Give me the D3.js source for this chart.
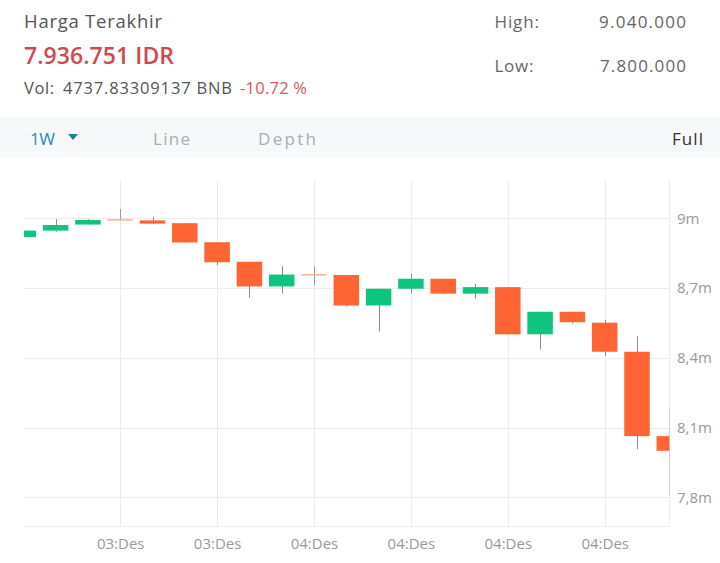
<!DOCTYPE html>
<html>
<head>
<meta charset="utf-8">
<script src="https://cdn.jsdelivr.net/npm/d3@7"></script>
<style>
  html, body { margin: 0; padding: 0; background: #fff; }
  svg { display: block; font-family: "Open Sans", "Noto Sans", sans-serif; }
</style>
</head>
<body>
<svg id="chart" width="720" height="563"></svg>
<script>
// ---- Data (values in millions IDR) ----
const candleIndex = [0,1,2,3,4,5,6,7,8,9,10,11,12,13,14,15,16,17,18,19,20];
const opens  = [8.919, 8.947, 8.973, 8.993, 8.991, 8.979, 8.897, 8.813, 8.707, 8.757, 8.756, 8.625, 8.697, 8.740, 8.676, 8.704, 8.501, 8.598, 8.551, 8.426, 8.063];
const highs  = [8.947, 8.996, 8.996, 9.040, 9.006, 8.979, 8.897, 8.813, 8.794, 8.794, 8.756, 8.697, 8.761, 8.740, 8.718, 8.704, 8.598, 8.598, 8.563, 8.493, 8.186];
const lows   = [8.919, 8.943, 8.973, 8.990, 8.977, 8.896, 8.799, 8.658, 8.677, 8.713, 8.621, 8.514, 8.679, 8.674, 8.654, 8.501, 8.436, 8.547, 8.407, 8.007, 7.807];
const closes = [8.947, 8.971, 8.993, 8.993, 8.977, 8.896, 8.811, 8.707, 8.758, 8.757, 8.625, 8.697, 8.740, 8.676, 8.704, 8.501, 8.598, 8.553, 8.426, 8.063, 8.000];

const yTicks = [9.0, 8.7, 8.4, 8.1, 7.8];
const yTickLabels = ["9m", "8,7m", "8,4m", "8,1m", "7,8m"];
const xTicks = [3, 6, 9, 12, 15, 18];
const xTickLabels = ["03:Des", "03:Des", "04:Des", "04:Des", "04:Des", "04:Des"];

const header = {
  title: "Harga Terakhir",
  price: "7.936.751 IDR",
  volLabel: "Vol:",
  vol: "4737.83309137 BNB",
  change: "-10.72 %",
  highLabel: "High:", highValue: "9.040.000",
  lowLabel: "Low:", lowValue: "7.800.000"
};
const tabs = ["1W", "Line", "Depth", "Full"];

// ---- Layout ----
const svg = d3.select("#chart");
const plot = { left: 24, right: 669.3, top: 180, bottom: 526 };

const x = d3.scaleLinear().domain([0, 20]).range([23.3, 669.3]);
const y = d3.scaleLinear().domain([7.8, 9.0]).range([497.3, 218.3]);
const step = x(1) - x(0);
const bodyW = step * 0.79;

const UP = "#0fc47e", DOWN = "#fe6434", DOJI = "#f8ae96", WICK = "#8c8c8c", GRID = "#ececec";

function txt(xp, yp, size, color, s, len, opts = {}) {
  const t = svg.append("text").attr("x", xp).attr("y", yp).attr("font-size", size)
    .attr("fill", color).attr("font-weight", opts.weight || 400).text(s);
  if (len) t.attr("textLength", len).attr("lengthAdjust", "spacing");
  if (opts.anchor) t.attr("text-anchor", opts.anchor);
  return t;
}

// ---- Header ----
txt(24, 27.5, 18.5, "#555", header.title, 138);
txt(24, 64, 23, "#cf4a4c", header.price, 150, { weight: 600 });
txt(24, 94, 16.5, "#555", header.volLabel, 30);
txt(63, 94, 16.5, "#555", header.vol, 169);
txt(240, 94, 16.5, "#d9585a", header.change, 67);

txt(494.5, 27.5, 17, "#666", header.highLabel, 44.5);
txt(599, 27.5, 17, "#666", header.highValue, 87);
txt(494.5, 71.5, 17, "#666", header.lowLabel, 39);
txt(600, 71.5, 17, "#666", header.lowValue, 86);

// ---- Tab bar ----
svg.append("rect").attr("x", 0).attr("y", 117).attr("width", 720).attr("height", 40).attr("fill", "#f6f8f9");
txt(30, 145, 17, "#2a8cb3", tabs[0], 25);
svg.append("path").attr("d", "M68,134 L78,134 L73,140 Z").attr("fill", "#1f7d9e");
txt(153, 145, 17, "#a9aeb2", tabs[1], 37);
txt(258, 145, 17, "#a9aeb2", tabs[2], 58);
txt(672, 145, 17, "#333", tabs[3], 31);

// ---- Grid ----
const grid = svg.append("g");
grid.selectAll("line.h").data(yTicks).join("line")
  .attr("x1", plot.left).attr("x2", plot.right)
  .attr("y1", d => Math.round(y(d)) + 0.5).attr("y2", d => Math.round(y(d)) + 0.5)
  .attr("stroke", GRID).attr("stroke-width", 1);
grid.append("line").attr("x1", plot.left).attr("x2", plot.right)
  .attr("y1", plot.bottom + 0.5).attr("y2", plot.bottom + 0.5).attr("stroke", GRID);
grid.selectAll("line.v").data(xTicks).join("line")
  .attr("x1", d => Math.round(x(d)) + 0.5).attr("x2", d => Math.round(x(d)) + 0.5)
  .attr("y1", plot.top).attr("y2", plot.bottom)
  .attr("stroke", GRID).attr("stroke-width", 1);
grid.append("line").attr("x1", 669.5).attr("x2", 669.5)
  .attr("y1", plot.top).attr("y2", plot.bottom).attr("stroke", GRID);

// ---- Candles ----
svg.append("defs").append("clipPath").attr("id", "clip")
  .append("rect").attr("x", plot.left).attr("y", plot.top)
  .attr("width", plot.right - plot.left).attr("height", plot.bottom - plot.top);

const candles = svg.append("g").attr("clip-path", "url(#clip)");
const data = candleIndex.map(i => ({ i, o: opens[i], h: highs[i], l: lows[i], c: closes[i] }));

candles.selectAll("line.wick").data(data).join("line")
  .attr("x1", d => Math.round(x(d.i)) + 0.5).attr("x2", d => Math.round(x(d.i)) + 0.5)
  .attr("y1", d => y(d.h)).attr("y2", d => y(d.l))
  .attr("stroke", d => d.o === d.c ? "#9a9a9a" : WICK).attr("stroke-width", 1);

candles.selectAll("rect.body").data(data).join("rect")
  .attr("x", d => x(d.i) - bodyW / 2)
  .attr("width", bodyW)
  .attr("y", d => d.o === d.c ? y(d.o) - 0.75 : y(Math.max(d.o, d.c)))
  .attr("height", d => d.o === d.c ? 1.5 : Math.max(1, y(Math.min(d.o, d.c)) - y(Math.max(d.o, d.c))))
  .attr("fill", d => d.c > d.o ? UP : (d.c < d.o ? DOWN : DOJI));

// ---- Axes labels ----
const yAxis = d3.axisRight(y).tickValues(yTicks).tickFormat((d, i) => yTickLabels[i]).tickSize(0).tickPadding(0);
const yg = svg.append("g").attr("transform", "translate(677,0)").call(yAxis);
yg.select(".domain").remove();
yg.selectAll("text").attr("font-size", 15).attr("fill", "#999")
  .attr("font-family", "'Open Sans', sans-serif");

const xAxis = d3.axisBottom(x).tickValues(xTicks).tickFormat((d, i) => xTickLabels[i]).tickSize(0).tickPadding(0);
const xg = svg.append("g").attr("transform", "translate(0,538.5)").call(xAxis);
xg.select(".domain").remove();
xg.selectAll("text").attr("font-size", 15).attr("fill", "#999")
  .attr("font-family", "'Open Sans', sans-serif");
</script>
</body>
</html>
